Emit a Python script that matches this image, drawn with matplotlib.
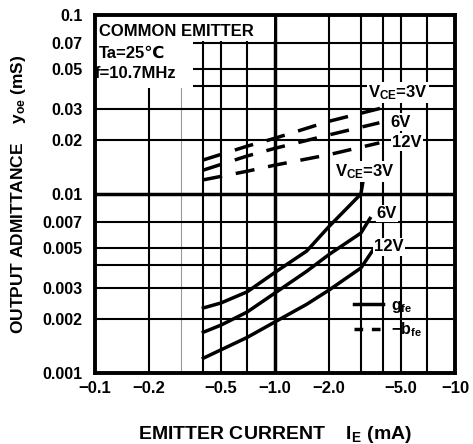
import matplotlib
matplotlib.use('Agg')
import matplotlib.pyplot as plt
from matplotlib.lines import Line2D
from matplotlib.patches import Rectangle
from matplotlib.ticker import FixedLocator, NullLocator

plt.rcParams['font.family'] = ['Liberation Sans', 'DejaVu Sans']
plt.rcParams['font.weight'] = 'bold'
plt.rcParams['axes.labelweight'] = 'bold'
plt.rcParams['mathtext.fontset'] = 'custom'
plt.rcParams['mathtext.rm'] = 'Liberation Sans:bold'
plt.rcParams['mathtext.default'] = 'regular'

# emitter current magnitude (mA); the axis shows -IE
# boe (dashed) curves
ie_b_3v = [0.4, 0.7, 1.0, 2.0, 3.9]
boe_3v = [0.0155, 0.0185, 0.0205, 0.0255, 0.0302]
ie_b_6v = [0.4, 0.7, 1.0, 2.0, 3.8]
boe_6v = [0.0136, 0.0163, 0.0180, 0.0214, 0.0250]
ie_b_12v = [0.4, 0.7, 1.0, 2.0, 3.8]
boe_12v = [0.0120, 0.0134, 0.0145, 0.0166, 0.0193]

# goe (solid) curves
ie_g_3v = [0.4, 0.5, 0.7, 1.0, 1.5, 2.0, 3.0, 3.08]
goe_3v = [0.00231, 0.00246, 0.00284, 0.00365, 0.0048, 0.0066, 0.0100, 0.0117]
ie_g_6v = [0.4, 0.5, 0.7, 1.0, 1.5, 2.0, 3.0, 3.37]
goe_6v = [0.00169, 0.00185, 0.00219, 0.0028, 0.0037, 0.0046, 0.00605, 0.0073]
ie_g_12v = [0.4, 0.7, 1.0, 1.5, 2.0, 3.0, 3.5]
goe_12v = [0.00121, 0.00158, 0.00193, 0.00242, 0.00291, 0.00386, 0.00486]

x_ticks = [0.1, 0.2, 0.5, 1.0, 2.0, 5.0, 10]
x_labels = ['\u22120.1', '\u22120.2', '\u22120.5', '\u22121.0', '\u22122.0', '\u22125.0', '\u221210']
y_ticks = [0.001, 0.002, 0.003, 0.005, 0.007, 0.01, 0.02, 0.03, 0.05, 0.07, 0.1]
y_labels = ['0.001', '0.002', '0.003', '0.005', '0.007', '0.01', '0.02', '0.03', '0.05', '0.07', '0.1']
x_grid = [0.2, 0.4, 0.5, 0.7, 2, 3, 4, 5, 7]
y_grid = [0.002, 0.003, 0.004, 0.005, 0.007, 0.02, 0.03, 0.04, 0.05, 0.07]

fig = plt.figure(figsize=(4.73, 4.44), dpi=100)
ax = fig.add_axes([95 / 473, 1 - 373 / 444, 360 / 473, 358 / 444])
ax.set_xscale('log')
ax.set_yscale('log')
ax.set_xlim(0.1, 10)
ax.set_ylim(0.001, 0.1)

# grid
for v in x_grid:
    ax.axvline(v, color='black', lw=1.5, zorder=1)
ax.axvline(0.3, color='0.6', lw=0.8, zorder=1)
ax.axvline(1.0, color='black', lw=2.5, zorder=1)
for v in y_grid:
    ax.axhline(v, color='black', lw=1.5, zorder=1)
ax.axhline(0.01, color='black', lw=2.5, zorder=1)

# white area behind the conditions text
ax.add_patch(Rectangle((0, 0.927), 0.496, 0.073, transform=ax.transAxes,
                       facecolor='white', edgecolor='none', zorder=2))
ax.add_patch(Rectangle((0, 0.796), 0.272, 0.135, transform=ax.transAxes,
                       facecolor='white', edgecolor='none', zorder=2))

dash = (5.5, 4)
ax.plot(ie_b_3v, boe_3v, color='black', lw=2.5, dashes=dash, zorder=3)
ax.plot(ie_b_6v, boe_6v, color='black', lw=2.5, dashes=dash, zorder=3)
ax.plot(ie_b_12v, boe_12v, color='black', lw=2.5, dashes=dash, zorder=3)
ax.plot(ie_g_3v, goe_3v, color='black', lw=2.5, zorder=3)
ax.plot(ie_g_6v, goe_6v, color='black', lw=2.5, zorder=3)
ax.plot(ie_g_12v, goe_12v, color='black', lw=2.5, zorder=3)

# conditions
ax.text(0.01, 0.955, 'COMMON EMITTER', transform=ax.transAxes, fontsize=12,
        ha='left', va='center', zorder=4)
ax.text(0.01, 0.892, 'Ta=25\u2103', transform=ax.transAxes, fontsize=12,
        ha='left', va='center', zorder=4)
ax.text(0.0, 0.836, 'f=10.7MHz', transform=ax.transAxes, fontsize=12,
        ha='left', va='center', zorder=4)

# curve labels
box = dict(facecolor='white', edgecolor='none', pad=0.8)
lab_kw = dict(fontsize=12, ha='center', va='center', zorder=4, bbox=box)
ax.text(4.82, 0.0367, 'V$_{CE}$=3V', **lab_kw)
ax.text(5.01, 0.0252, '6V', **lab_kw)
ax.text(5.41, 0.0195, '12V', **lab_kw)
ax.text(3.16, 0.0133, 'V$_{CE}$=3V', **lab_kw)
ax.text(4.19, 0.0078, '6V', **lab_kw)
ax.text(4.30, 0.00506, '12V', **lab_kw)

handles = [Line2D([], [], color='black', lw=2.5),
           Line2D([], [], color='black', lw=2.5, dashes=(2.5, 2.5))]
leg = ax.legend(handles, ['g$_{fe}$', '\u2212b$_{fe}$'],
                loc='upper left', bbox_to_anchor=(0.72, 0.21), frameon=False,
                fontsize=11.5, handlelength=1.8, handletextpad=0.5,
                labelspacing=0.35, borderpad=0, borderaxespad=0)
leg.set_zorder(4)

ax.xaxis.set_major_locator(FixedLocator(x_ticks))
ax.xaxis.set_minor_locator(NullLocator())
ax.yaxis.set_major_locator(FixedLocator(y_ticks))
ax.yaxis.set_minor_locator(NullLocator())
ax.set_xticklabels(x_labels)
ax.set_yticklabels(y_labels)
ax.tick_params(axis='x', length=0, pad=6, labelsize=12)
ax.tick_params(axis='y', length=0, pad=9, labelsize=11.5)

for s in ax.spines.values():
    s.set_linewidth(2.8)
    s.set_zorder(5)

ax.set_xlabel('EMITTER CURRENT    I$_{E}$ (mA)', fontsize=14, labelpad=20)
ax.set_ylabel('OUTPUT ADMITTANCE    y$_{oe}$ (mS)', fontsize=12.5, labelpad=10)

fig.savefig('out.png', dpi=100)
